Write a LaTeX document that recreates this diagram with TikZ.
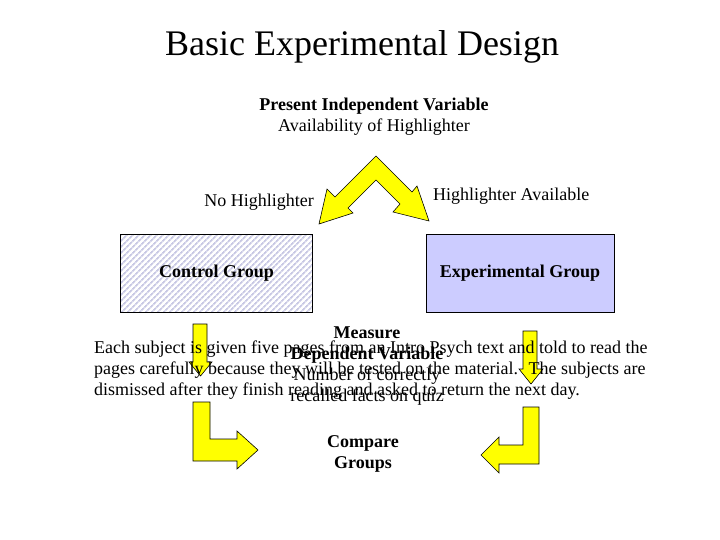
\documentclass[tikz,border=0pt]{standalone}
\usepackage{fontspec}
\setmainfont{Liberation Serif}
\usetikzlibrary{patterns.meta}
\definecolor{HiYellow}{HTML}{FFFF00}
\definecolor{GroupBlue}{HTML}{CCCCFF}
\definecolor{HatchGrey}{HTML}{C8C8E4}

\begin{document}
\begin{tikzpicture}[x=1pt, y=-1pt,
  txt/.style={inner sep=0pt, anchor=base, font=\fontsize{18}{21}\selectfont},
  btxt/.style={txt, font=\fontsize{18}{21}\selectfont\bfseries},
  group/.style={draw, line width=1pt, minimum height=78pt, inner sep=0pt,
    font=\fontsize{18}{21}\selectfont\bfseries},
  blockarrow/.style={fill=HiYellow, draw=black, line width=0.6pt, line join=miter}]

  % Slide, 720 x 540 px, y running down
  \fill[white] (0,0) rectangle (720,540);
  \useasboundingbox (0,0) rectangle (720,540);

  % Title
  \node[inner sep=0pt, anchor=base, font=\fontsize{36}{40}\selectfont]
    (title) at (362,56) {Basic Experimental Design};

  % Independent variable
  \node[btxt] (ivhead) at (374,111) {Present Independent Variable};
  \node[txt] (ivname) at (374,132) {Availability of Highlighter};

  % Split arrow: apex at (376,156), heads at (319,224) and (429,221)
  \draw[blockarrow] (376,156) -- (412,192) -- (417,186) -- (429,221)
    -- (393,212) -- (400,204) -- (376,180) -- (348,208) -- (353,213)
    -- (319,224) -- (327,189) -- (335,197) -- cycle;

  \node[txt, anchor=base east] (nolabel) at (314,207) {No Highlighter};
  \node[txt, anchor=base west] (yeslabel) at (433,201) {Highlighter Available};

  % Groups
  \node[group, minimum width=192pt,
    pattern={Lines[angle=45, distance=4pt, line width=1.8pt]},
    pattern color=HatchGrey] (control) at (216.5,273.3) {Control Group};
  \node[group, minimum width=188pt, fill=GroupBlue]
    (exper) at (520,273.3) {Experimental Group};

  % Down arrows from the groups
  \draw[blockarrow] (193,324) -- (207,324) -- (207,362) -- (212,362)
    -- (200.5,376) -- (189,362) -- (193,362) -- cycle;
  \draw[blockarrow] (523,331) -- (537,331) -- (537,369) -- (543,369)
    -- (531,384) -- (519,369) -- (523,369) -- cycle;

  % Procedure
  \node[txt, anchor=base west] (body1) at (94,353)
    {Each subject is given five pages from an Intro Psych text and told to read the};
  \node[txt, anchor=base west] (body2) at (94,374)
    {pages carefully because they will be tested on the material.~ The subjects are};
  \node[txt, anchor=base west] (body3) at (94,395)
    {dismissed after they finish reading and asked to return the next day.};

  % Dependent variable
  \node[btxt] (dvhead) at (367,338) {Measure};
  \node[btxt] (dvname) at (367,359) {Dependent Variable};
  \node[txt] (dvunit) at (367,380) {Number of correctly};
  \node[txt] (dvunitb) at (367,401) {recalled facts on quiz};

  % Bent arrows to the comparison
  \draw[blockarrow] (193,402) -- (210,402) -- (210,439) -- (237,439)
    -- (237,431) -- (258,450) -- (237,469) -- (237,461) -- (193,461) -- cycle;
  \draw[blockarrow] (539,407) -- (523,407) -- (523,445) -- (499,445)
    -- (499,437) -- (481,455) -- (499,473) -- (499,464) -- (539,464) -- cycle;

  % Comparison
  \node[btxt] (cmp) at (363,447) {Compare};
  \node[btxt] (cmpb) at (363,468) {Groups};
\end{tikzpicture}
\end{document}
